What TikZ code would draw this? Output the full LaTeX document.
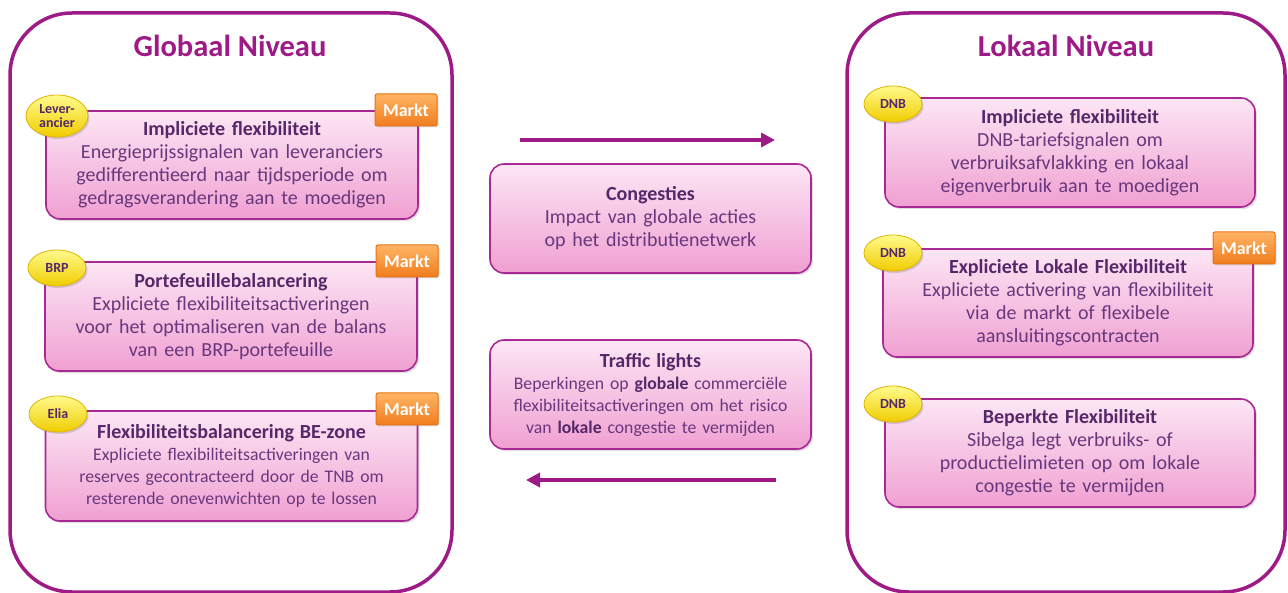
\documentclass[tikz,border=0pt]{standalone}
\usepackage{fontspec}
\setmainfont{Carlito}
\usetikzlibrary{shadows,arrows.meta,shapes.geometric}
\definecolor{outerc}{RGB}{158,26,134}
\definecolor{innerc}{RGB}{168,40,148}
\definecolor{txtc}{RGB}{105,55,125}
\definecolor{ttlc}{RGB}{85,40,105}
\definecolor{pinktop}{RGB}{252,230,244}
\definecolor{pinkbot}{RGB}{240,160,210}
\definecolor{ortop}{RGB}{255,180,100}
\definecolor{orbot}{RGB}{240,125,30}
\definecolor{orline}{RGB}{230,115,20}
\definecolor{yeltop}{RGB}{255,250,140}
\definecolor{yelbot}{RGB}{240,205,0}
\definecolor{yelline}{RGB}{225,180,0}
\tikzset{
  outerbox/.style={draw=outerc,line width=3.5pt,rounded corners=62pt},
  levtitle/.style={text=outerc,font=\fontsize{30.5}{32}\selectfont\bfseries},
  flexbox/.style={draw=innerc,line width=1.6pt,rounded corners=14pt,top color=pinktop,bottom color=pinkbot,
     drop shadow={opacity=0.25,shadow xshift=2pt,shadow yshift=-2pt},
     minimum width=#1,align=center,text=txtc,inner sep=2pt,font=\fontsize{20}{23}\selectfont},
  flexbox/.default=372pt,
  smallfont/.style={font=\fontsize{17.7}{22}\selectfont},
  marktbox/.style={draw=orline,line width=1pt,rounded corners=2pt,top color=ortop,bottom color=orbot,
     text=white,font=\fontsize{18}{20}\selectfont\bfseries,minimum width=62pt,minimum height=32pt,inner sep=0pt,
     drop shadow={opacity=0.25,shadow xshift=1.5pt,shadow yshift=-1.5pt}},
  actor/.style={ellipse,draw=yelline,line width=0.8pt,top color=yeltop,bottom color=yelbot,
     text=ttlc,font=\fontsize{14}{14}\selectfont\bfseries,minimum width=58pt,minimum height=36pt,inner sep=0pt,align=center,
     drop shadow={opacity=0.3,shadow xshift=1.5pt,shadow yshift=-2pt}},
  flow/.style={draw=outerc,line width=3.5pt,-{Triangle[length=14pt,width=14pt]}},
}
\newcommand{\btl}[1]{\textbf{\color{ttlc}#1}}
\newcommand{\bigtl}[1]{{\fontsize{20}{23}\selectfont\bfseries\color{ttlc}#1}}
\begin{document}
\begin{tikzpicture}[x=1pt,y=-1pt]
\useasboundingbox (0,0) rectangle (1288,593);
\fill[white] (0,0) rectangle (1288,593);
% outer boxes
\begin{scope}
\clip (0,0) rectangle (1288,593);
\draw[outerbox] (10,13) rectangle (452,592);
\draw[outerbox] (847,13) rectangle (1285,592);
\end{scope}
\node[levtitle] (tglob) at (230,46) {Globaal Niveau};
\node[levtitle] (tlok) at (1066,46) {Lokaal Niveau};
% left boxes
\node[flexbox,minimum height=108pt,text width=366pt] (l1) at (232,165)
 {\btl{Impliciete flexibiliteit}\\Energieprijssignalen van leveranciers\\gedifferentieerd naar tijdsperiode om\\gedragsverandering aan te moedigen};
\node[flexbox,minimum height=109pt,text width=366pt] (l2) at (231,316.5)
 {\btl{Portefeuillebalancering}\\Expliciete flexibiliteitsactiveringen\\voor het optimaliseren van de balans\\van een BRP-portefeuille};
\node[flexbox,smallfont,minimum height=110pt,text width=366pt] (l3) at (231.5,466)
 {\bigtl{Flexibiliteitsbalancering BE-zone}\\Expliciete flexibiliteitsactiveringen van\\reserves gecontracteerd door de TNB om\\resterende onevenwichten op te lossen};
\node[marktbox] (m1) at (406,110) {Markt};
\node[marktbox] (m2) at (407,261) {Markt};
\node[marktbox] (m3) at (407,409) {Markt};
\node[actor,minimum width=62pt,minimum height=42pt,font=\fontsize{14}{13.5}\selectfont\bfseries] (a1) at (57,116) {Lever-\\ancier};
\node[actor] (a2) at (57,268) {BRP};
\node[actor] (a3) at (58,414) {Elia};
% center
\node[flexbox=321pt,minimum height=109pt,text width=315pt] (c1) at (650.5,218.5)
 {\btl{Congesties}\\Impact van globale acties\\op het distributienetwerk};
\node[flexbox=321pt,smallfont,minimum height=109pt,text width=315pt] (c2) at (650.5,394.5)
 {\bigtl{Traffic lights}\\Beperkingen op \btl{globale} commerciële\\flexibiliteitsactiveringen om het risico\\van \btl{lokale} congestie te vermijden};
\coordinate (p1) at (520,140);
\coordinate (p2) at (775,140);
\coordinate (q1) at (776,480);
\coordinate (q2) at (526,480);
\draw[flow] (p1) -- (p2);
\draw[flow] (q1) -- (q2);
% right boxes
\node[flexbox=370pt,minimum height=109pt,text width=364pt] (r1) at (1070,152.5)
 {\btl{Impliciete flexibiliteit}\\DNB-tariefsignalen om\\verbruiksafvlakking en lokaal\\eigenverbruik aan te moedigen};
\node[flexbox=370pt,minimum height=108pt,text width=364pt] (r2) at (1068,303)
 {\btl{Expliciete Lokale Flexibiliteit}\\Expliciete activering van flexibiliteit\\via de markt of flexibele\\aansluitingscontracten};
\node[flexbox=370pt,minimum height=108pt,text width=364pt] (r3) at (1070,453)
 {\btl{Beperkte Flexibiliteit}\\Sibelga legt verbruiks- of\\productielimieten op om lokale\\congestie te vermijden};
\node[marktbox] (m4) at (1244,248) {Markt};
\node[actor] (d1) at (893,104) {DNB};
\node[actor] (d2) at (893,253) {DNB};
\node[actor] (d3) at (893,404) {DNB};
\end{tikzpicture}
\end{document}
